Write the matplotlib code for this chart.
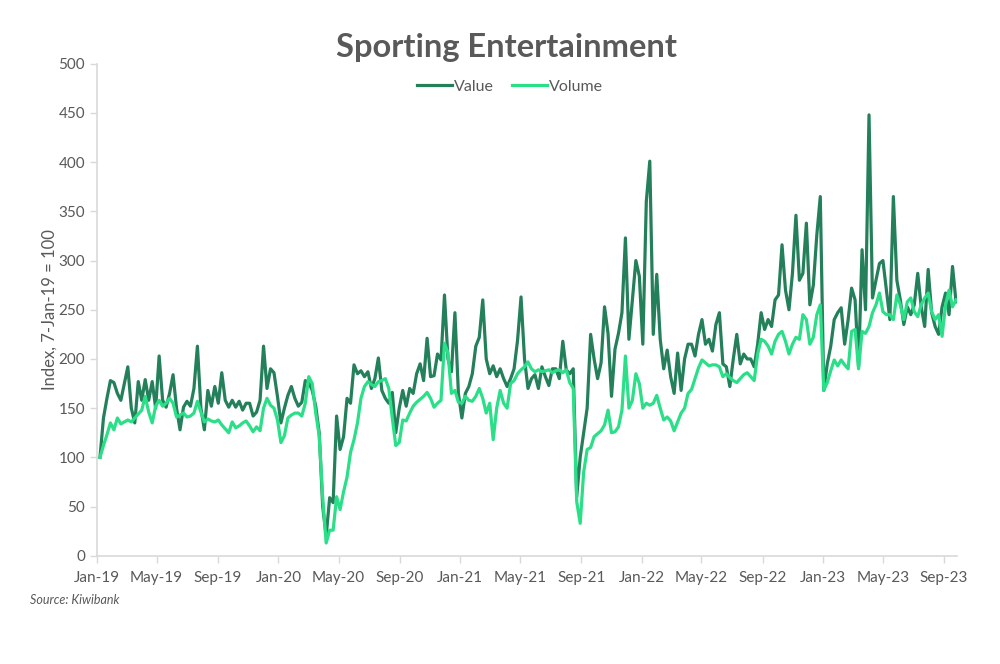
import pandas as pd
import matplotlib
matplotlib.use("Agg")
from matplotlib import pyplot as plt
import matplotlib.dates as mdates

# weekly index readings, 7-Jan-19 = 100
value = [
    100, 140, 160, 178, 176, 165, 158, 175, 192, 150,
    135, 177, 158, 179, 158, 177, 150, 203, 158, 151,
    165, 184, 150, 128, 151, 157, 152, 170, 213, 150,
    128, 168, 152, 172, 155, 186, 158, 151, 158, 151,
    157, 148, 155,
    155, 142, 146, 158, 213, 170, 190, 186, 162, 135,
    150, 163, 172, 160, 152, 156, 178, 176, 168, 152,
    125, 50, 20, 59, 54, 142, 108, 121, 160, 155,
    194, 185, 188, 182, 187, 170, 180, 201, 168, 160,
    155,
    166, 125, 150, 168, 152, 170, 165, 185, 195, 178,
    221, 182, 183, 205, 199, 265, 200, 187, 247, 165,
    140, 165, 172, 185, 213, 222, 260, 200, 185, 193,
    182, 190, 180, 172, 180, 190, 219, 263, 200, 170,
    180, 184, 170, 192, 182, 173, 190, 190, 180, 218,
    189, 185, 190, 60, 100, 125, 150, 225, 200, 180,
    196, 253, 226, 162, 210, 226, 247, 323, 220, 260,
    300, 284, 215, 360, 401, 225, 286, 220, 190, 209,
    182, 165, 206, 168,
    200, 215, 215, 203, 225, 240, 215, 220, 208, 235,
    247, 195, 192, 172, 200, 225, 195, 205, 200, 200,
    192, 215, 247, 230, 240, 233, 260, 265, 316, 270,
    250, 287, 346, 280, 287, 338, 255, 275, 326, 365,
    168,
    195, 213, 240, 247, 252, 215, 240, 272, 260, 192,
    311, 250, 448, 262, 280, 297, 300, 270, 240, 365,
    280, 260, 235, 253, 245, 255, 287, 253, 233, 291,
    247, 233, 225, 253, 267, 245, 294, 258,
]

volume = [
    100, 112, 123, 135, 128, 140, 134, 136, 138, 136,
    140, 144, 148, 162, 146, 135, 152, 158, 152, 155,
    160, 155, 141, 143, 145, 141, 142, 145, 157, 146,
    136, 139, 137, 136, 138, 133, 129, 125, 136, 130,
    132, 135, 137,
    132, 126, 131, 127, 150, 160, 153, 150, 138, 115,
    122, 140, 143, 145, 145, 142, 155, 182, 175, 145,
    122, 60, 13, 26, 26, 60, 47, 65, 80, 105,
    118, 135, 160, 172, 177, 174, 172, 177, 178, 180,
    170,
    140, 112, 115, 138, 137, 145, 152, 156, 159, 162,
    166, 160, 151, 155, 158, 216, 206, 165, 168, 156,
    155, 162, 158, 157, 162, 170, 160, 145, 155, 118,
    150, 168, 155, 150, 175, 178, 185, 189, 192, 197,
    190, 187, 189, 187, 188, 189, 186, 188, 189, 186,
    189, 176, 170, 55, 33, 85, 108, 110, 121, 124,
    127, 133, 148, 125, 126, 131, 148, 203, 150, 158,
    185, 175, 150, 155, 153, 155, 163, 150, 138, 141,
    137, 127, 136, 145,
    150, 165, 169, 180, 191, 199, 196, 193, 194, 194,
    192, 182, 185, 181, 178, 176, 180, 184, 186, 182,
    178, 205, 220, 218, 213, 205, 218, 225, 228, 218,
    205, 215, 222, 220, 245, 240, 215, 222, 245, 255,
    168,
    176, 188, 199, 193, 199, 194, 190, 228, 230, 190,
    228, 226, 233, 247, 255, 267, 248, 245, 245, 240,
    265, 255, 240, 258, 262, 248, 243, 255, 262, 267,
    248, 240, 245, 223, 255, 270, 253, 260,
]

dates = pd.date_range("2019-01-07", periods=len(value), freq="7D")

dark_green = "#24805A"
light_green = "#2BDF88"
grey = "#595959"

plt.rcParams["font.family"] = ["Lato", "DejaVu Sans"]

fig = plt.figure(figsize=(10, 6.64), dpi=100)
ax = fig.add_axes([0.097, 0.163, 0.86, 0.741])

ax.plot(dates, value, color=dark_green, lw=2.3, label="Value", solid_joinstyle="round")
ax.plot(dates, volume, color=light_green, lw=2.3, label="Volume", solid_joinstyle="round")

ax.set_ylim(0, 500)
ax.set_yticks(range(0, 501, 50))
ax.set_xlim(pd.Timestamp("2019-01-01"), dates[-1] + pd.Timedelta(days=2))
ax.xaxis.set_major_locator(mdates.MonthLocator(bymonth=[1, 5, 9]))
ax.xaxis.set_major_formatter(mdates.DateFormatter("%b-%y"))

for side in ["top", "right"]:
    ax.spines[side].set_visible(False)
for side in ["left", "bottom"]:
    ax.spines[side].set_color("#D9D9D9")
    ax.spines[side].set_linewidth(1.2)
ax.tick_params(axis="both", colors="#D9D9D9", length=5, width=1, labelcolor=grey, labelsize=11)
ax.tick_params(axis="x", pad=6)

ax.set_ylabel("Index, 7-Jan-19 = 100", color=grey, fontsize=12, labelpad=1)

fig.text(0.507, 0.928, "Sporting Entertainment", ha="center", va="center",
         fontsize=23.5, fontweight="bold", color=grey)
fig.legend(loc="center", bbox_to_anchor=(0.51, 0.869), ncol=2, frameon=False,
           fontsize=11.5, handlelength=2.2, handletextpad=0.15, columnspacing=1.1,
           labelcolor=grey)
fig.text(0.03, 0.096, "Source: Kiwibank", fontsize=9, style="italic", color=grey,
         ha="left", va="center")

fig.savefig("out.png", dpi=100)
